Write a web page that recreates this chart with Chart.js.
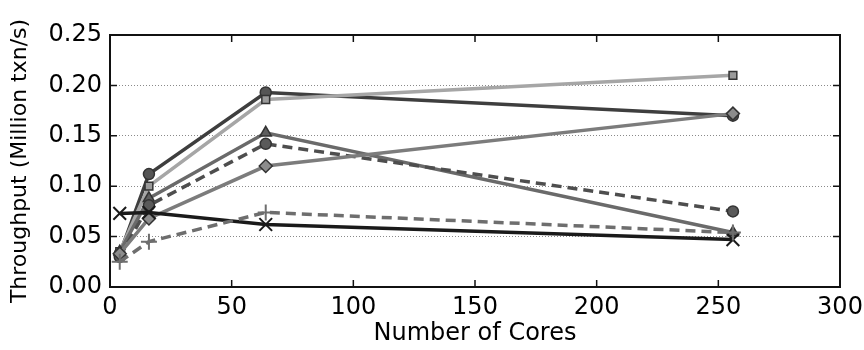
<!DOCTYPE html>
<html>
<head>
<meta charset="utf-8">
<script src="https://cdn.jsdelivr.net/npm/chart.js"></script>
<style>
  html, body { margin: 0; padding: 0; background: #fff; }
  #wrap { width: 864px; height: 350px; }
</style>
</head>
<body>
<div id="wrap"><canvas id="chart" width="864" height="350"></canvas></div>
<script>
// Dados
const cores = [4, 16, 64, 256];
const xTicks = [0, 50, 100, 150, 200, 250, 300];
const yTicks = [0, 0.05, 0.10, 0.15, 0.20, 0.25];

const circleSolid = [0.033, 0.112, 0.193, 0.170];
const squareLight = [0.035, 0.100, 0.186, 0.210];
const triangleSolid = [0.035, 0.088, 0.153, 0.054];
const circleDashed = [0.030, 0.081, 0.142, 0.075];
const diamondSolid = [0.033, 0.068, 0.120, 0.172];
const crossSolid = [0.073, 0.074, 0.062, 0.047];
const plusDashed = [0.025, 0.045, 0.074, 0.054];

function pts(values) {
    return cores.map((c, i) => ({ x: c, y: values[i] }));
}

function serie(values, line, fill, style, radius, dash) {
    const isCross = style === 'crossRot' || style === 'cross';
    return {
        data: pts(values),
        borderColor: line,
        borderWidth: 3.5,
        borderDash: dash || [],
        pointStyle: style,
        pointRadius: radius,
        pointBackgroundColor: fill,
        pointBorderColor: isCross ? line : '#333',
        pointBorderWidth: isCross ? 2 : 1.5,
        tension: 0,
        fill: false
    };
}

const FONT = "'DejaVu Sans', sans-serif";

// Ticks para dentro + moldura preta (estilo matplotlib)
const framePlugin = {
    id: 'frame',
    afterDraw(chart) {
        const { ctx, chartArea: a, scales } = chart;
        ctx.save();
        ctx.strokeStyle = '#111';
        ctx.lineWidth = 1.5;
        const len = 7;
        ctx.beginPath();
        xTicks.forEach(v => {
            const px = scales.x.getPixelForValue(v);
            ctx.moveTo(px, a.bottom); ctx.lineTo(px, a.bottom - len);
            ctx.moveTo(px, a.top); ctx.lineTo(px, a.top + len);
        });
        yTicks.forEach(v => {
            const py = scales.y.getPixelForValue(v);
            ctx.moveTo(a.left, py); ctx.lineTo(a.left + len, py);
            ctx.moveTo(a.right, py); ctx.lineTo(a.right - len, py);
        });
        ctx.stroke();
        ctx.lineWidth = 2;
        ctx.strokeRect(a.left, a.top, a.right - a.left, a.bottom - a.top);
        ctx.restore();
    }
};

new Chart(document.getElementById('chart'), {
    type: 'line',
    data: {
        datasets: [
            serie(plusDashed, '#6e6e6e', '#6e6e6e', 'cross', 8, [10, 6]),
            serie(crossSolid, '#1a1a1a', '#1a1a1a', 'crossRot', 9),
            serie(diamondSolid, '#7c7c7c', '#8c8c8c', 'rectRot', 6.5),
            serie(circleDashed, '#4e4e4e', '#5a5a5a', 'circle', 5.5, [10, 6]),
            serie(triangleSolid, '#6a6a6a', '#5e5e5e', 'triangle', 6.5),
            serie(squareLight, '#a6a6a6', '#9a9a9a', 'rect', 5.5),
            serie(circleSolid, '#3e3e3e', '#555555', 'circle', 5.5)
        ]
    },
    options: {
        responsive: false,
        animation: false,
        events: [],
        layout: { padding: { top: 35, right: 24, left: 0, bottom: 0 } },
        plugins: {
            legend: { display: false },
            tooltip: { enabled: false }
        },
        scales: {
            x: {
                type: 'linear',
                min: 0,
                max: 300,
                afterFit(scale) {
                    scale.height = 63;
                    scale.paddingLeft = 0;
                    scale.paddingRight = 0;
                },
                afterBuildTicks(scale) { scale.ticks = xTicks.map(v => ({ value: v })); },
                grid: { display: false, drawTicks: false },
                border: { display: false },
                ticks: {
                    color: '#000',
                    padding: 6,
                    maxRotation: 0,
                    font: { family: FONT, size: 24 }
                },
                title: {
                    display: true,
                    text: 'Number of Cores',
                    color: '#000',
                    padding: { top: 0, bottom: 2 },
                    font: { family: FONT, size: 24 }
                }
            },
            y: {
                type: 'linear',
                min: 0,
                max: 0.25,
                afterFit(scale) {
                    scale.width = 110;
                    scale.paddingTop = 0;
                    scale.paddingBottom = 0;
                },
                afterBuildTicks(scale) { scale.ticks = yTicks.map(v => ({ value: v })); },
                grid: {
                    drawTicks: false,
                    lineWidth: 1,
                    color: ctx => (ctx.tick && ctx.tick.value > 0.001 && ctx.tick.value < 0.249) ? '#8a8a8a' : 'rgba(0,0,0,0)'
                },
                border: { display: false, dash: [1, 2] },
                ticks: {
                    color: '#000',
                    padding: 8,
                    font: { family: FONT, size: 24 },
                    callback: v => Number(v).toFixed(2)
                },
                title: {
                    display: true,
                    text: 'Throughput (Million txn/s)',
                    color: '#000',
                    padding: { top: 7, bottom: 0 },
                    font: { family: FONT, size: 22 }
                }
            }
        }
    },
    plugins: [framePlugin]
});
</script>
</body>
</html>
